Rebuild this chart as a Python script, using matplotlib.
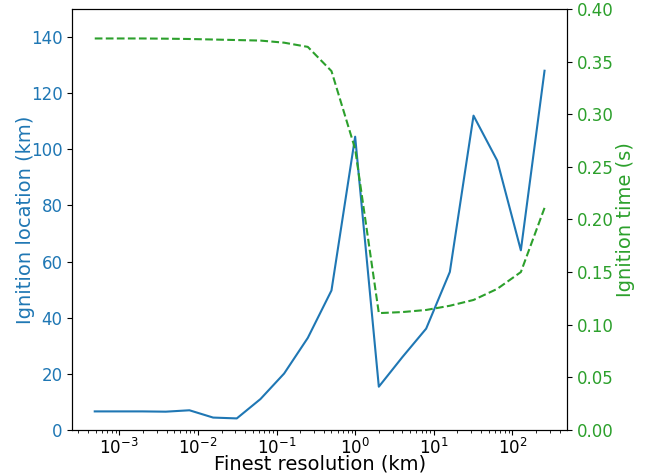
import numpy as np
import matplotlib
matplotlib.use('Agg')
import matplotlib.pyplot as plt

# Resolución más fina (km): potencias de 2 de 2^-11 a 2^8
resolucion = [2.0 ** k for k in range(-11, 9)]

# Ubicación de ignición (km)
ubicacion = [6.6, 6.6, 6.6, 6.5, 7.0, 4.4, 4.1, 11.0, 20.1, 32.8, 49.7,
             104.5, 15.4, 26.0, 36.1, 56.3, 112.0, 96.0, 64.0, 128.0]

# Tiempo de ignición (s)
tiempo = [0.372, 0.372, 0.372, 0.3718, 0.3715, 0.371, 0.3705, 0.370, 0.368,
          0.364, 0.341, 0.267, 0.111, 0.112, 0.114, 0.118, 0.1235, 0.134,
          0.150, 0.211]

azul = 'tab:blue'
verde = 'tab:green'

fig, ax1 = plt.subplots(figsize=(6.51, 4.74), dpi=100)
fig.subplots_adjust(left=0.111, right=0.871, bottom=0.093, top=0.981)

ax1.plot(resolucion, ubicacion, color=azul)
ax1.set_xscale('log')
ax1.set_ylim(0, 150)
ax1.set_xlabel('Finest resolution (km)', fontsize=14, labelpad=-2)
ax1.set_ylabel('Ignition location (km)', color=azul, fontsize=14, labelpad=-3)
ax1.tick_params(axis='y', labelcolor=azul, labelsize=12)
ax1.tick_params(axis='x', labelsize=12, pad=2)

ax2 = ax1.twinx()
ax2.plot(resolucion, tiempo, color=verde, linestyle='--')
ax2.set_ylim(0, 0.4)
ax2.set_ylabel('Ignition time (s)', color=verde, fontsize=14, labelpad=2)
ax2.tick_params(axis='y', labelcolor=verde, labelsize=12)

plt.savefig('out.png')
